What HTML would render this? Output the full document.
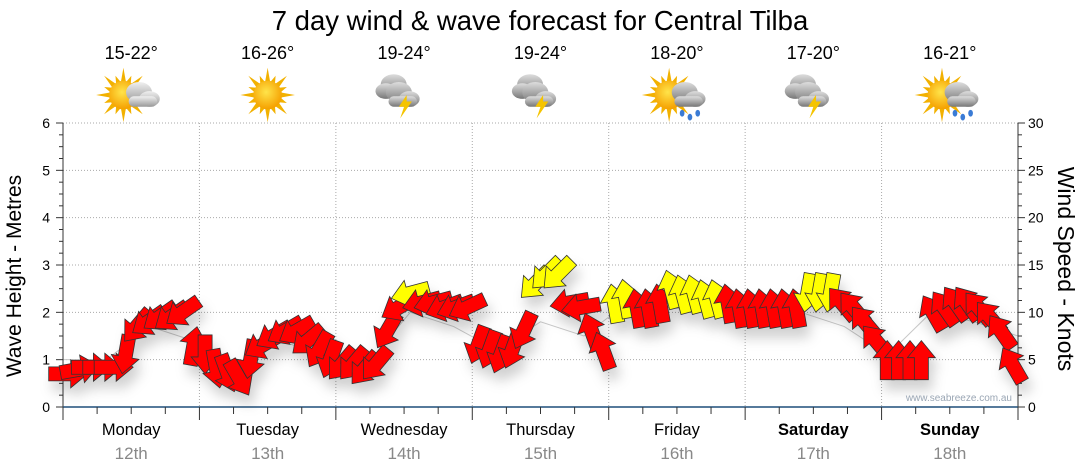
<!DOCTYPE html>
<html><head><meta charset="utf-8"><style>
body{margin:0;background:#fff;}
svg{display:block;font-family:"Liberation Sans",Verdana,sans-serif;}
</style></head><body>
<svg id="c" width="1080" height="475" viewBox="0 0 1080 475">
<defs>
<filter id="sh" x="-50%" y="-50%" width="200%" height="200%"><feDropShadow dx="4" dy="10" stdDeviation="6" flood-color="#000" flood-opacity="0.18"/></filter>
<radialGradient id="sun" cx="45%" cy="40%" r="60%"><stop offset="0" stop-color="#ffe44a"/><stop offset="1" stop-color="#f5a000"/></radialGradient>
<linearGradient id="cloud" x1="0" y1="0" x2="0" y2="1"><stop offset="0" stop-color="#f0f0f0"/><stop offset="1" stop-color="#999"/></linearGradient>
<linearGradient id="dcloud" x1="0" y1="0" x2="0" y2="1"><stop offset="0" stop-color="#ddd"/><stop offset="1" stop-color="#777"/></linearGradient>
</defs>
<text x="540" y="30" text-anchor="middle" font-size="27.5" fill="#000">7 day wind &amp; wave forecast for Central Tilba</text>
<g id="grid"></g>
<g id="axes"></g>
<g id="icons"></g>
<g id="marks" filter="url(#sh)"></g>
<text x="1012" y="401" text-anchor="end" font-size="10" fill="#9aa6b4">www.seabreeze.com.au</text>
<text transform="translate(21,276) rotate(-90)" text-anchor="middle" font-size="21" fill="#000">Wave Height - Metres</text>
<text transform="translate(1058,269) rotate(90)" text-anchor="middle" font-size="23" fill="#000">Wind Speed - Knots</text>
</svg>
<script>
const days = ["Monday","Tuesday","Wednesday","Thursday","Friday","Saturday","Sunday"];
const dates = ["12th","13th","14th","15th","16th","17th","18th"];
const temps = ["15-22°","16-26°","19-24°","19-24°","18-20°","17-20°","16-21°"];
const iconTypes = ["partly","sun","storm","storm","rain","storm","rain"];
const leftTicks = [0,1,2,3,4,5,6];
const rightTicks = [0,5,10,15,20,25,30];
const hours = [1,3,5,7,9,11,13,15,17,19,21,23];
const windSpeed = [
 3.5,4,4.2,4.2,4.2,5.5,8.5,9,9.5,9.5,10,6.5,
 5.5,4,3.5,3,5,6.5,7.5,8,8,7,6,5,
 4.5,4.5,4,4.5,8,10.5,12,11,11,10.5,10.5,10.5,
 6.5,6,5.5,6,8,13,14,14,11,10.5,8,6,
 11,11.5,10.5,10.5,11,12.5,12,12,11.5,11.5,11,10.5,
 10.5,10.5,10.5,10.5,10.5,12,12,12,11,10.5,9,7,
 5,5,5,5,10,10.5,11,11,10.5,9.5,8,4.5];
const windDir = [
 0,-10,0,0,0,100,130,145,145,145,145,280,
 90,80,70,60,100,150,150,150,150,140,120,110,
 130,130,130,130,120,150,165,165,165,160,160,155,
 110,110,110,110,115,135,135,135,170,170,250,250,
 260,260,260,260,260,255,255,255,255,255,260,260,
 260,260,260,260,260,100,100,100,230,230,230,230,
 270,270,270,270,240,235,235,235,230,230,235,240];
const windFlag = [
 0,0,0,0,0,0,0,0,0,0,0,0,
 0,0,0,0,0,0,0,0,0,0,0,0,
 0,0,0,0,0,0,1,0,0,0,0,0,
 0,0,0,0,0,1,1,1,0,0,0,0,
 1,1,0,0,0,1,1,1,1,1,0,0,
 0,0,0,0,0,1,1,1,0,0,0,0,
 0,0,0,0,0,0,0,0,0,0,0,0];
const waveHeight = [1.0,1.0,1.7,1.4,0.7,1.4,1.1,0.9,2.0,1.7,1.2,1.8,1.5,2.2,2.1,2.0,2.0,2.0,1.7,1.1,2.0,1.8,1.5];

const NS="http://www.w3.org/2000/svg";
const X0=63,X1=1018,Y0=407,Y1=123;
const xScale=h=>X0+h*(X1-X0)/168;
const yLeft=v=>Y0-v*(Y0-Y1)/6;
const yRight=v=>Y0-v*(Y0-Y1)/30;
function mk(tag,attrs,parent){const e=document.createElementNS(NS,tag);for(const k in attrs)e.setAttribute(k,attrs[k]);parent.appendChild(e);return e;}
const grid=document.getElementById('grid'),axes=document.getElementById('axes'),marks=document.getElementById('marks'),icons=document.getElementById('icons');

for(let i=1;i<7;i++){const g=mk('line',{x1:X0,x2:X1,y1:yLeft(i),y2:yLeft(i),stroke:'#aaa','stroke-dasharray':'1,2'},grid);

}
for(let d=1;d<7;d++){const g=mk('line',{x1:xScale(d*24),x2:xScale(d*24),y1:Y1,y2:Y0,stroke:'#aaa','stroke-dasharray':'1,2'},grid);

}
mk('line',{x1:X0,x2:X0,y1:Y1,y2:Y0,stroke:'#333'},axes);
mk('line',{x1:X1,x2:X1,y1:Y1,y2:Y0,stroke:'#333'},axes);
mk('line',{x1:X0,x2:X1,y1:Y0,y2:Y0,stroke:'#1f4f7a','stroke-width':1.5},axes);
for(let i=0;i<=24;i++){const y=yLeft(i/4),L=i%4==0?7:4;mk('line',{x1:X0-L,x2:X0,y1:y,y2:y,stroke:'#333'},axes);mk('line',{x1:X1,x2:X1+L,y1:y,y2:y,stroke:'#333'},axes);}
leftTicks.forEach(v=>{const t=mk('text',{x:50,y:yLeft(v)+5,'text-anchor':'end','font-size':14},axes);t.textContent=v;

});
rightTicks.forEach(v=>{const t=mk('text',{x:1028,y:yRight(v)+5,'font-size':14},axes);t.textContent=v;

});
for(let h=0;h<=168;h+=6){const x=xScale(h),L=h%24==0?13:7;mk('line',{x1:x,x2:x,y1:Y0,y2:Y0+L,stroke:'#333'},axes);}
days.forEach((d,i)=>{const cx=xScale(i*24+12);
const t=mk('text',{x:cx,y:435,'text-anchor':'middle','font-size':16.5,'font-weight':i>=5?'bold':'normal'},axes);t.textContent=d;


const t2=mk('text',{x:cx,y:459,'text-anchor':'middle','font-size':17,fill:'#888'},axes);t2.textContent=dates[i];


const t3=mk('text',{x:cx,y:59,'text-anchor':'middle','font-size':18},icons);t3.textContent=temps[i];


drawIcon(iconTypes[i],cx,95);});

function drawIcon(type,cx,cy){const outer=mk('g',{transform:`translate(${cx},${cy}) scale(1.3) translate(${-cx},${-cy})`},icons);const g=outer;


if(type=='sun'||type=='partly'||type=='rain'){const sx=type=='sun'?cx:cx-6;
for(let a=0;a<16;a++){const ang=a*Math.PI/8,r=a%2?16:21;mk('polygon',{points:`${sx+Math.cos(ang)*r},${cy+Math.sin(ang)*r} ${sx+Math.cos(ang+0.2)*10},${cy+Math.sin(ang+0.2)*10} ${sx+Math.cos(ang-0.2)*10},${cy+Math.sin(ang-0.2)*10}`,fill:'#f2b100'},g);}
mk('circle',{cx:sx,cy:cy,r:11,fill:'url(#sun)'},g);}
if(type=='partly'||type=='rain'||type=='storm'){const col=type=='partly'?'url(#cloud)':'url(#dcloud)';const ox=type=='storm'?-8:2;
if(type=='storm'){mk('ellipse',{cx:cx+ox,cy:cy-8,rx:10,ry:8,fill:col},g);mk('ellipse',{cx:cx+ox-6,cy:cy-3,rx:8,ry:6,fill:col},g);}
mk('ellipse',{cx:cx+ox+4,cy:cy-2,rx:10,ry:8,fill:col},g);mk('ellipse',{cx:cx+ox+12,cy:cy+3,rx:8,ry:6,fill:col},g);mk('rect',{x:cx+ox-4,y:cy+1,width:22,height:8,rx:4,fill:col},g);
if(type=='storm')mk('polygon',{points:`${cx+2},${cy} ${cx-4},${cy+9} ${cx},${cy+9} ${cx-3},${cy+18} ${cx+6},${cy+5} ${cx+2},${cy+5}`,fill:'#f5c400'},g);
if(type=='rain')for(let k=0;k<3;k++)mk('ellipse',{cx:cx+ox+2+k*6,cy:cy+14+(k%2)*3,rx:1.8,ry:2.6,fill:'#3a7bd5'},g);}}

let pts=waveHeight.map((v,i)=>`${xScale(i*168/(waveHeight.length-1))},${yLeft(v)}`).join(' ');
const wl=mk('polyline',{points:pts,fill:'none',stroke:'#c8c8c8','stroke-width':1},grid);



windSpeed.forEach((k,i)=>{const h=Math.floor(i/12)*24+hours[i%12];const x=xScale(h),y=yRight(k);
const p=mk('polygon',{points:'-20,-7 2,-7 2,-14 19,0 2,14 2,7 -20,7',fill:windFlag[i]?'#ffff00':'#ff0000',stroke:'#333','stroke-width':0.8,transform:`translate(${x},${y}) rotate(${windDir[i]})`},marks);

});
</script>
</body></html>
